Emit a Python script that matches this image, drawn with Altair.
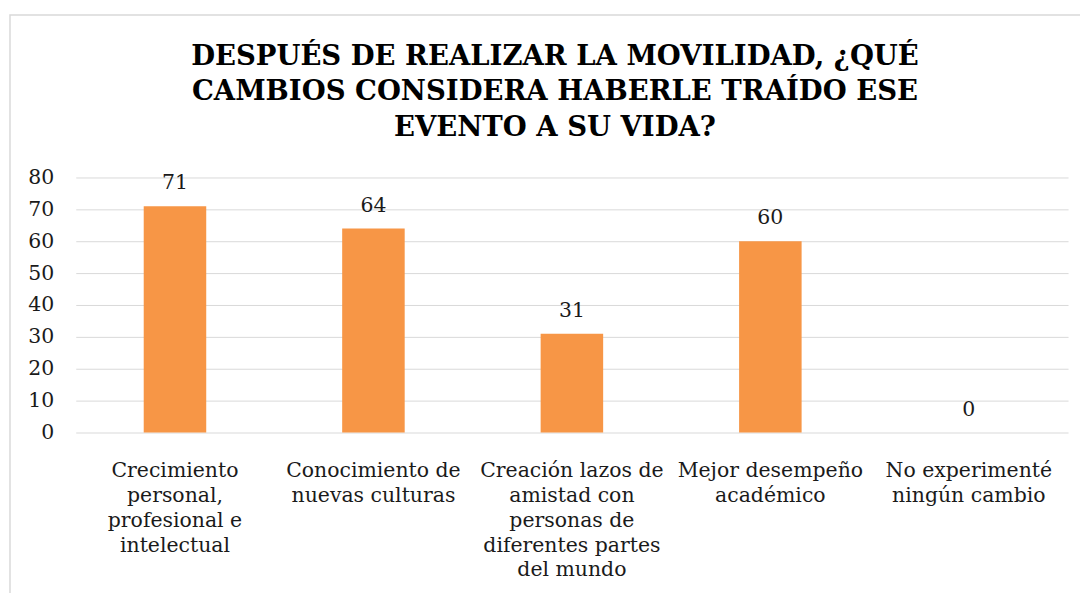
import altair as alt
import pandas as pd

categories = [
    "Crecimiento|personal,|profesional e|intelectual",
    "Conocimiento de|nuevas culturas",
    "Creación lazos de|amistad con|personas de|diferentes partes|del mundo",
    "Mejor desempeño|académico",
    "No experimenté|ningún cambio",
]
values = [71, 64, 31, 60, 0]
y_ticks = [0, 10, 20, 30, 40, 50, 60, 70, 80]
title_lines = [
    "DESPUÉS DE REALIZAR LA MOVILIDAD, ¿QUÉ",
    "CAMBIOS CONSIDERA HABERLE TRAÍDO ESE",
    "EVENTO A SU VIDA?",
]

df = pd.DataFrame({"cat": categories, "val": values})

FONT = "DejaVu Serif"
TFONT = "DejaVu Serif"
FS = 20.5
TXT = "#1a1a1a"

x_enc = alt.X(
    "cat:N",
    sort=categories,
    scale=alt.Scale(paddingInner=0.685, paddingOuter=0.3425),
    axis=alt.Axis(
        title=None,
        labelAngle=0,
        labelExpr="split(datum.label, '|')",
        labelFont=FONT,
        labelFontSize=FS,
        labelColor=TXT,
        labelLineHeight=25,
        labelPadding=28,
        labelBaseline="top",
        labelLimit=300,
        ticks=False,
        domain=False,
        grid=False,
    ),
)
y_enc = alt.Y(
    "val:Q",
    scale=alt.Scale(domain=[0, 80], nice=False),
    axis=alt.Axis(
        title=None,
        values=y_ticks,
        labelOverlap=False,
        labelFont=FONT,
        labelFontSize=FS,
        labelColor=TXT,
        labelPadding=22,
        ticks=False,
        domain=False,
        grid=True,
        gridColor="#d9d9d9",
        gridWidth=1,
    ),
)

frame = alt.Chart(pd.DataFrame({"a": [0]})).mark_rect(
    fill="transparent", stroke="#d9d9d9", strokeWidth=1.5, clip=False
).encode(
    x=alt.value(-66), x2=alt.value(1030), y=alt.value(-163), y2=alt.value(500)
)

bars = alt.Chart(df).mark_bar(color="#F79646").encode(x=x_enc, y=y_enc)
labels = alt.Chart(df).mark_text(
    font=FONT, fontSize=FS, color=TXT, baseline="alphabetic", dy=-17
).encode(x=x_enc, y=y_enc, text="val:Q")

chart = (
    alt.layer(frame, bars, labels)
    .properties(
        width=996,
        height=256,
        autosize=alt.AutoSizeParams(type="none"),
        padding={"left": 68, "top": 169, "right": 12, "bottom": 160},
        title=alt.TitleParams(
            text=title_lines,
            font=TFONT,
            fontSize=27.6,
            fontWeight="bold",
            color="#000000",
            lineHeight=36,
            anchor="middle",
            dx=-17,
            dy=128,
            offset=0,
        ),
    )
    .configure_view(stroke=None)
)

chart.save("out.html", embed_options={"renderer": "svg", "actions": False})
